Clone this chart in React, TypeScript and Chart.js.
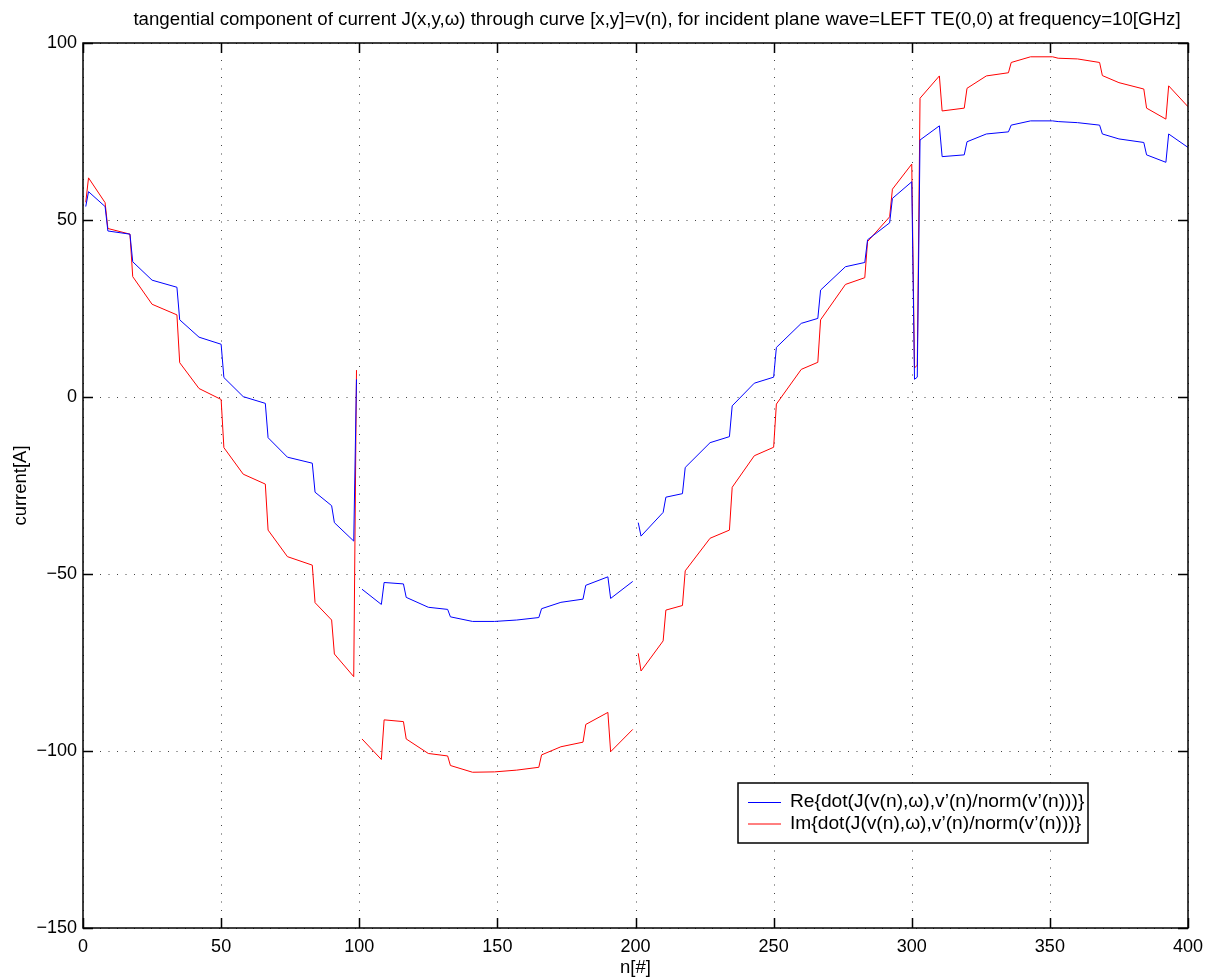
import React, { useEffect, useRef } from "react";
import { Chart, registerables } from "chart.js";

Chart.register(...registerables);

const titleText =
  "tangential component of current J(x,y,\u03c9) through curve [x,y]=v(n), for incident plane wave=LEFT TE(0,0) at frequency=10[GHz]";
const xLabel = "n[#]";
const yLabel = "current[A]";
const legendLabels = [
  "Re{dot(J(v(n),\u03c9),v\u2019(n)/norm(v\u2019(n)))}",
  "Im{dot(J(v(n),\u03c9),v\u2019(n)/norm(v\u2019(n)))}",
];

// sample positions n (null values mark the breaks of the curve)
const nValues = [
  1, 2, 8, 9, 17, 18, 25, 34, 35, 42, 50, 51, 58, 66, 67, 74, 83, 84, 90, 91, 98, 99,
  100,
  101, 108, 109, 116, 117, 125, 132, 133, 141, 149, 157, 165, 166, 173, 181, 182, 190, 191, 199,
  200,
  201, 202, 210, 211, 217, 218, 227, 234, 235, 243, 250, 251, 260, 266, 267, 276, 283, 284, 292, 293,
  300, 301, 302, 303, 310, 311, 319, 320, 327, 335, 336, 343, 351, 353, 360, 368, 369, 375, 384, 385,
  392, 393, 400,
];

const reValues = [
  53.8, 58.0, 53.8, 46.9, 46.0, 38.2, 33.0, 31.0, 21.8, 16.9, 14.9, 5.5, 0.1, -1.8, -11.5, -17.0, -18.7,
  -26.9, -30.7, -35.5, -40.7, 5.0,
  null,
  -54.3, -58.6, -52.4, -52.8, -56.6, -59.4, -60.0, -62.1, -63.4, -63.4, -63.0, -62.3, -59.8, -58.0, -57.1,
  -53.2, -50.8, -56.9, -52.1,
  null,
  -35.5, -39.3, -32.6, -28.3, -27.3, -19.9, -12.9, -11.2, -2.5, 3.9, 5.6, 14.0, 20.8, 22.2, 30.2, 36.8,
  38.0, 44.4, 49.2, 56.1, 60.8, 5.0, 5.6, 72.6, 76.6, 67.9, 68.4, 72.1, 74.3, 74.9, 76.8, 78.0, 78.0,
  77.8, 77.5, 76.8, 74.3, 72.9, 71.9, 68.4, 66.3, 74.3, 70.5,
];

const imValues = [
  55.0, 61.9, 54.9, 47.6, 46.0, 34.0, 26.2, 23.2, 9.7, 2.4, -0.7, -14.3, -21.8, -24.6, -37.6, -45.1,
  -47.5, -58.1, -63.0, -72.6, -79.0, 7.6,
  null,
  -96.6, -102.4, -91.2, -91.7, -96.6, -100.7, -101.4, -104.1, -106.0, -105.9, -105.4, -104.6, -101.1,
  -98.8, -97.5, -92.5, -89.1, -100.2, -93.9,
  null,
  -72.4, -77.4, -68.9, -60.2, -58.9, -49.1, -39.9, -37.6, -25.5, -16.6, -14.2, -2.0, 7.8, 9.8, 21.8,
  31.8, 33.7, 43.9, 50.9, 58.7, 65.8, 8.2, 9.0, 84.4, 90.7, 80.8, 81.6, 87.2, 90.7, 91.6, 94.5, 96.1,
  96.1, 95.7, 95.5, 94.5, 90.8, 88.8, 87.0, 81.6, 78.5, 87.9, 82.0,
];

const xTicks = [0, 50, 100, 150, 200, 250, 300, 350, 400];
const yTicks = [-150, -100, -50, 0, 50, 100];

const seriesColors = ["#0000ff", "#ff0000"];
const FONT = "'Liberation Sans', Arial, Helvetica, sans-serif";

const framePlugin = {
  id: "matlabFrame",
  beforeDatasetsDraw(chart: any) {
    const { ctx, chartArea: a, scales } = chart;
    ctx.save();
    ctx.strokeStyle = "#444444";
    ctx.lineWidth = 1;
    ctx.setLineDash([1, 7.5]);
    for (const t of xTicks) {
      const x = Math.round(scales.x.getPixelForValue(t)) + 0.5;
      ctx.beginPath();
      ctx.moveTo(x, a.top);
      ctx.lineTo(x, a.bottom);
      ctx.stroke();
    }
    for (const t of yTicks) {
      const y = Math.round(scales.y.getPixelForValue(t)) + 0.5;
      ctx.beginPath();
      ctx.moveTo(a.left, y);
      ctx.lineTo(a.right, y);
      ctx.stroke();
    }
    ctx.restore();
  },
  afterDatasetsDraw(chart: any) {
    const { ctx, chartArea: a, scales } = chart;
    ctx.save();
    ctx.setLineDash([]);
    ctx.strokeStyle = "#000000";
    ctx.lineWidth = 1.5;
    ctx.strokeRect(a.left, a.top, a.right - a.left, a.bottom - a.top);
    const tl = 10;
    for (const t of xTicks) {
      const x = Math.round(scales.x.getPixelForValue(t)) + 0.5;
      ctx.beginPath();
      ctx.moveTo(x, a.bottom);
      ctx.lineTo(x, a.bottom - tl);
      ctx.moveTo(x, a.top);
      ctx.lineTo(x, a.top + tl);
      ctx.stroke();
    }
    for (const t of yTicks) {
      const y = Math.round(scales.y.getPixelForValue(t)) + 0.5;
      ctx.beginPath();
      ctx.moveTo(a.left, y);
      ctx.lineTo(a.left + tl, y);
      ctx.moveTo(a.right, y);
      ctx.lineTo(a.right - tl, y);
      ctx.stroke();
    }

    // title
    ctx.fillStyle = "#000000";
    ctx.font = `18.7px ${FONT}`;
    ctx.textAlign = "center";
    ctx.textBaseline = "middle";
    ctx.fillText(titleText, 657, 20);

    // axis labels
    ctx.font = `18.5px ${FONT}`;
    ctx.fillText(xLabel, (a.left + a.right) / 2, 968);
    ctx.save();
    ctx.translate(21, (a.top + a.bottom) / 2);
    ctx.rotate(-Math.PI / 2);
    ctx.fillText(yLabel, 0, 0);
    ctx.restore();

    // legend
    const lx = 738, ly = 783, lw = 350, lh = 60;
    ctx.fillStyle = "#ffffff";
    ctx.fillRect(lx, ly, lw, lh);
    ctx.strokeStyle = "#000000";
    ctx.lineWidth = 1.5;
    ctx.strokeRect(lx, ly, lw, lh);
    ctx.font = `19.2px ${FONT}`;
    ctx.textAlign = "left";
    legendLabels.forEach((lab, i) => {
      const y = 802 + i * 21.5;
      ctx.strokeStyle = seriesColors[i];
      ctx.lineWidth = 1;
      ctx.beginPath();
      ctx.moveTo(748, y + 0.5);
      ctx.lineTo(781, y + 0.5);
      ctx.stroke();
      ctx.fillStyle = "#000000";
      ctx.fillText(lab, 790, y);
    });
    ctx.restore();
  },
};

export default function App() {
  const ref = useRef<HTMLCanvasElement | null>(null);
  useEffect(() => {
    document.body.style.margin = "0";
    const canvas = ref.current;
    if (!canvas) return;
    const mk = (vals: (number | null)[]) => nValues.map((n, i) => ({ x: n, y: vals[i] }));
    const chart = new Chart(canvas, {
      type: "line",
      data: {
        datasets: [
          {
            label: legendLabels[0],
            data: mk(reValues),
            borderColor: seriesColors[0],
            borderWidth: 1,
            pointRadius: 0,
            tension: 0,
            spanGaps: false,
          },
          {
            label: legendLabels[1],
            data: mk(imValues),
            borderColor: seriesColors[1],
            borderWidth: 1,
            pointRadius: 0,
            tension: 0,
            spanGaps: false,
          },
        ],
      },
      options: {
        animation: false,
        responsive: false,
        maintainAspectRatio: false,
        events: [],
        layout: { padding: { left: 0, right: 17, top: 43, bottom: 0 } },
        plugins: { legend: { display: false }, title: { display: false }, tooltip: { enabled: false } },
        scales: {
          x: {
            type: "linear",
            min: 0,
            max: 400,
            grid: { display: false, drawTicks: false },
            border: { display: false },
            afterFit: (s: any) => {
              s.height = 52;
              s.paddingLeft = 0;
              s.paddingRight = 0;
            },
            afterBuildTicks: (s: any) => {
              s.ticks = xTicks.map((v) => ({ value: v }));
            },
            ticks: {
              color: "#000000",
              padding: 8,
              maxRotation: 0,
              autoSkip: false,
              font: { family: FONT, size: 18 },
              callback: (v: any) => String(v),
            },
          },
          y: {
            type: "linear",
            min: -150,
            max: 100,
            grid: { display: false, drawTicks: false },
            border: { display: false },
            afterFit: (s: any) => {
              s.width = 83;
              s.paddingTop = 0;
              s.paddingBottom = 0;
            },
            afterBuildTicks: (s: any) => {
              s.ticks = yTicks.map((v) => ({ value: v }));
            },
            ticks: {
              color: "#000000",
              padding: 6,
              autoSkip: false,
              font: { family: FONT, size: 18 },
              callback: (v: any) => String(v).replace("-", "\u2212"),
            },
          },
        },
      },
      plugins: [framePlugin],
    } as any);
    return () => chart.destroy();
  }, []);
  return (
    <div style={{ width: 1205, height: 980, background: "#ffffff" }}>
      <canvas ref={ref} width={1205} height={980} style={{ display: "block" }} />
    </div>
  );
}
